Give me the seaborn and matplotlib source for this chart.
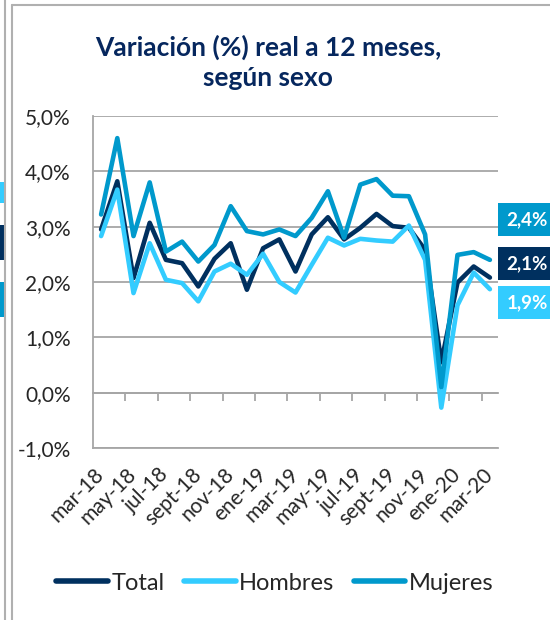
import pandas as pd
import seaborn as sns
from matplotlib import pyplot as plt
from matplotlib.ticker import FuncFormatter
from matplotlib.lines import Line2D
from matplotlib.patches import Rectangle

# datos (variacion % real a 12 meses)
meses = ["mar-18", "abr-18", "may-18", "jun-18", "jul-18", "ago-18", "sept-18",
         "oct-18", "nov-18", "dic-18", "ene-19", "feb-19", "mar-19", "abr-19",
         "may-19", "jun-19", "jul-19", "ago-19", "sept-19", "oct-19", "nov-19",
         "dic-19", "ene-20", "feb-20", "mar-20"]
total = [2.95, 3.82, 2.07, 3.07, 2.40, 2.34, 1.92, 2.42, 2.70, 1.86, 2.61, 2.77,
         2.19, 2.86, 3.17, 2.77, 2.98, 3.23, 3.01, 2.98, 2.58, 0.55, 1.99, 2.28, 2.08]
hombres = [2.83, 3.67, 1.80, 2.70, 2.04, 1.98, 1.65, 2.19, 2.33, 2.13, 2.51, 2.00,
           1.81, 2.31, 2.80, 2.66, 2.78, 2.75, 2.73, 3.02, 2.40, -0.27, 1.58, 2.17, 1.87]
mujeres = [3.22, 4.60, 2.83, 3.80, 2.55, 2.73, 2.37, 2.67, 3.37, 2.92, 2.86, 2.95,
           2.83, 3.16, 3.64, 2.80, 3.76, 3.86, 3.56, 3.55, 2.86, 0.10, 2.49, 2.54, 2.40]
series = ["Total", "Hombres", "Mujeres"]
ultimos = ["2,1%", "1,9%", "2,4%"]
colores = {"Total": "#00305F", "Hombres": "#33CCFF", "Mujeres": "#0099CC"}

df = pd.DataFrame({"mes": range(len(meses)), "Total": total,
                   "Hombres": hombres, "Mujeres": mujeres})
df_long = df.melt(id_vars="mes", value_vars=series, var_name="serie", value_name="valor")

sns.set_style("white")
plt.rcParams["font.family"] = ["Lato", "DejaVu Sans"]
gris = "#A6A6A6"

fig = plt.figure(figsize=(5.5, 6.2), dpi=100)
ax = fig.add_axes([93 / 550, 1 - 448 / 620, 405 / 550, 332 / 620])

sns.lineplot(data=df_long, x="mes", y="valor", hue="serie", hue_order=series,
             palette=colores, linewidth=3.3, sort=False, ax=ax, legend=False)
for ln in ax.lines:
    ln.set_solid_joinstyle("round")
    ln.set_solid_capstyle("round")

ax.set_xlim(-0.5, len(meses) - 0.5)
ax.set_ylim(-1, 5)
ax.set_yticks([-1, 0, 1, 2, 3, 4, 5])
ax.yaxis.set_major_formatter(FuncFormatter(lambda v, p: f"{v:.1f}%".replace(".", ",")))
ax.grid(axis="y", color=gris, linewidth=1.3)
ax.set_axisbelow(True)
ax.set_xlabel("")
ax.set_ylabel("")
for s in ["top", "right"]:
    ax.spines[s].set_visible(False)
for s in ["left", "bottom"]:
    ax.spines[s].set_color(gris)
    ax.spines[s].set_linewidth(1.3)
ax.tick_params(axis="y", length=5, width=1.3, color=gris, pad=11, labelsize=15)

pos = list(range(0, len(meses), 2))
ax.set_xticks(pos)
ax.set_xticklabels([meses[i] for i in pos], rotation=45, ha="right",
                   va="center", rotation_mode="anchor")
ax.tick_params(axis="x", length=0, pad=17, labelsize=15)

# eje horizontal en 0% con marcas entre categorias
sec = ax.secondary_xaxis(1 / 6)
sec.set_xticks([i + 0.5 for i in range(1, len(meses) - 1, 2)])
sec.set_xticklabels([])
sec.tick_params(length=6, width=1.3, color=gris, direction="out")
sec.spines["bottom"].set_color(gris)
sec.spines["bottom"].set_linewidth(1.3)

# etiquetas del ultimo valor
offs = {"Mujeres": 0.73, "Total": 0.25, "Hombres": -0.24}
for serie, txt in zip(series, ultimos):
    ax.annotate(txt, xy=(1.0, df[serie].iloc[-1] + offs[serie]),
                xycoords=("axes fraction", "data"), xytext=(6, 0),
                textcoords="offset points", ha="left", va="center",
                color="white", fontsize=13.5, fontweight="bold",
                bbox=dict(boxstyle="square,pad=0.42", fc=colores[serie], ec="none"),
                annotation_clip=False)

fig.text(0.487, 1 - 62 / 620, "Variación (%) real a 12 meses,\nsegún sexo",
         ha="center", va="center", fontsize=19, fontweight="bold",
         color="#06275E", linespacing=1.3)

handles = [Line2D([], [], color=colores[s], linewidth=4, solid_capstyle="round") for s in series]
fig.legend(handles, series, loc="center", bbox_to_anchor=(0.5, 1 - 583 / 620),
           ncol=3, frameon=False, fontsize=17, handlelength=2.2,
           handletextpad=0.15, columnspacing=0.8)

# bordes del grafico y restos del grafico vecino
fig.add_artist(Line2D([4.5 / 550, 4.5 / 550], [0, 1], color="#B0B0B0", lw=1.5))
fig.add_artist(Line2D([11.5 / 550, 11.5 / 550], [0, 1 - 4.5 / 620], color="#B0B0B0", lw=1.5))
fig.add_artist(Line2D([11.5 / 550, 1], [1 - 4.5 / 620, 1 - 4.5 / 620], color="#B0B0B0", lw=1.5))
for y0, y1, c in [(182, 203, colores["Hombres"]), (225, 260, colores["Total"]),
                  (282, 317, colores["Mujeres"])]:
    fig.add_artist(Rectangle((0, 1 - y1 / 620), 4 / 550, (y1 - y0) / 620,
                             transform=fig.transFigure, fc=c, ec="none"))

fig.savefig("out.png", dpi=100)
